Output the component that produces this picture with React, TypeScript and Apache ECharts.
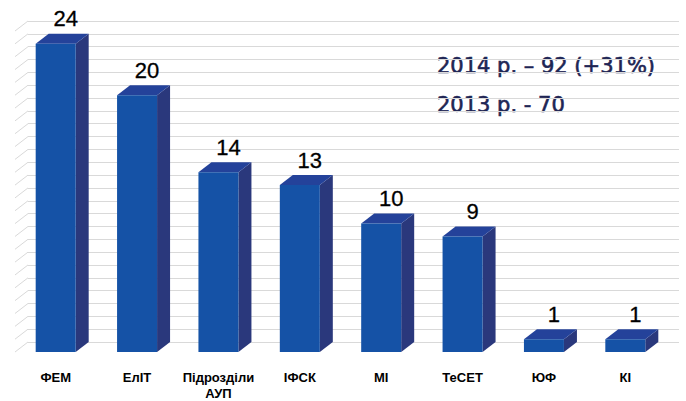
import React, { useEffect, useRef } from "react";
import * as echarts from "echarts";

const categories = ["ФЕМ", "ЕлІТ", "Підрозділи\nАУП", "ІФСК", "МІ", "ТеСЕТ", "ЮФ", "КІ"];
const values = [24, 20, 14, 13, 10, 9, 1, 1];
const yTicks = [0, 1, 2, 3, 4, 5, 6, 7, 8, 9, 10, 11, 12, 13, 14, 15, 16, 17, 18, 19, 20, 21, 22, 23, 24, 25];
const notes = ["2014 р. – 92 (+31%)", "2013 р. - 70"];

const FRONT = "#1552a6";
const SIDE = "#2a387c";
const TOP = "#24429a";
const GRID = "#d9d9d9";
const NOTE = "#1e2554";
const DX = 13;
const DY = 10;
const HW = 20;

export default function App() {
  const ref = useRef<HTMLDivElement>(null);
  useEffect(() => {
    if (!ref.current) return;
    const chart = echarts.init(ref.current, null, { renderer: "svg" });
    chart.setOption({
      animation: false,
      backgroundColor: "#ffffff",
      grid: { left: 28, right: 7, top: 21, bottom: 59, containLabel: false },
      xAxis: {
        type: "category",
        data: categories,
        axisLine: { show: false },
        axisTick: { show: false },
        axisLabel: {
          margin: 27,
          fontFamily: "Liberation Sans",
          fontWeight: "bold",
          fontSize: 13,
          lineHeight: 16,
          color: "#000",
          padding: [0, 2 * DX, 0, 0],
          interval: 0,
        },
      },
      yAxis: {
        type: "value",
        min: 0,
        max: 25,
        interval: 1,
        axisLabel: { show: false },
        axisLine: { show: false },
        axisTick: { show: false },
        splitLine: { show: true, lineStyle: { color: GRID, width: 1 } },
      },
      series: [
        {
          type: "custom",
          silent: true,
          clip: false,
          data: yTicks.map((t) => [0, t]),
          renderItem: (params: any, api: any) => {
            const p = api.coord([0, api.value(1)]);
            const x = params.coordSys.x;
            return {
              type: "line",
              shape: { x1: x - DX, y1: p[1] + DY, x2: x, y2: p[1] },
              style: { stroke: GRID, lineWidth: 1 },
            };
          },
        },
        {
          type: "custom",
          clip: false,
          data: values.map((v, i) => [i, v]),
          renderItem: (params: any, api: any) => {
            const idx = api.value(0);
            const v = api.value(1);
            const top = api.coord([idx, v]);
            const base = api.coord([idx, 0]);
            const cx = top[0];
            const yt = top[1];
            const yb = base[1];
            const fx0 = cx - DX - HW;
            const fx1 = cx - DX + HW;
            return {
              type: "group",
              children: [
                {
                  type: "polygon",
                  shape: { points: [[fx1, yt + DY], [cx + HW, yt], [cx + HW, yb], [fx1, yb + DY]] },
                  style: { fill: SIDE },
                },
                {
                  type: "polygon",
                  shape: { points: [[fx0, yt + DY], [cx - HW, yt], [cx + HW, yt], [fx1, yt + DY]] },
                  style: { fill: TOP },
                },
                {
                  type: "rect",
                  shape: { x: fx0, y: yt + DY, width: 2 * HW, height: yb - yt },
                  style: { fill: FRONT },
                },
                {
                  type: "text",
                  x: cx - 3,
                  y: yt - 15,
                  style: {
                    text: String(v),
                    align: "center",
                    verticalAlign: "middle",
                    fontFamily: "Liberation Sans",
                    fontSize: 22,
                    fill: "#000",
                    stroke: "#000",
                    lineWidth: 0.3,
                  },
                },
              ],
            };
          },
        },
      ],
      graphic: [
        {
          type: "text",
          x: 437,
          y: 65.5,
          style: {
            text: notes[0],
            verticalAlign: "middle",
            fontFamily: "DejaVu Sans",
            fontSize: 21,
            fill: NOTE,
            stroke: NOTE,
            lineWidth: 0.6,
          },
        },
        {
          type: "text",
          x: 437,
          y: 104.5,
          style: {
            text: notes[1],
            verticalAlign: "middle",
            fontFamily: "DejaVu Sans",
            fontSize: 21,
            fill: NOTE,
            stroke: NOTE,
            lineWidth: 0.6,
          },
        },
      ],
    });
    return () => chart.dispose();
  }, []);
  return (
    <div
      ref={ref}
      style={{ position: "fixed", left: 0, top: 0, width: 686, height: 401, background: "#fff" }}
    />
  );
}
